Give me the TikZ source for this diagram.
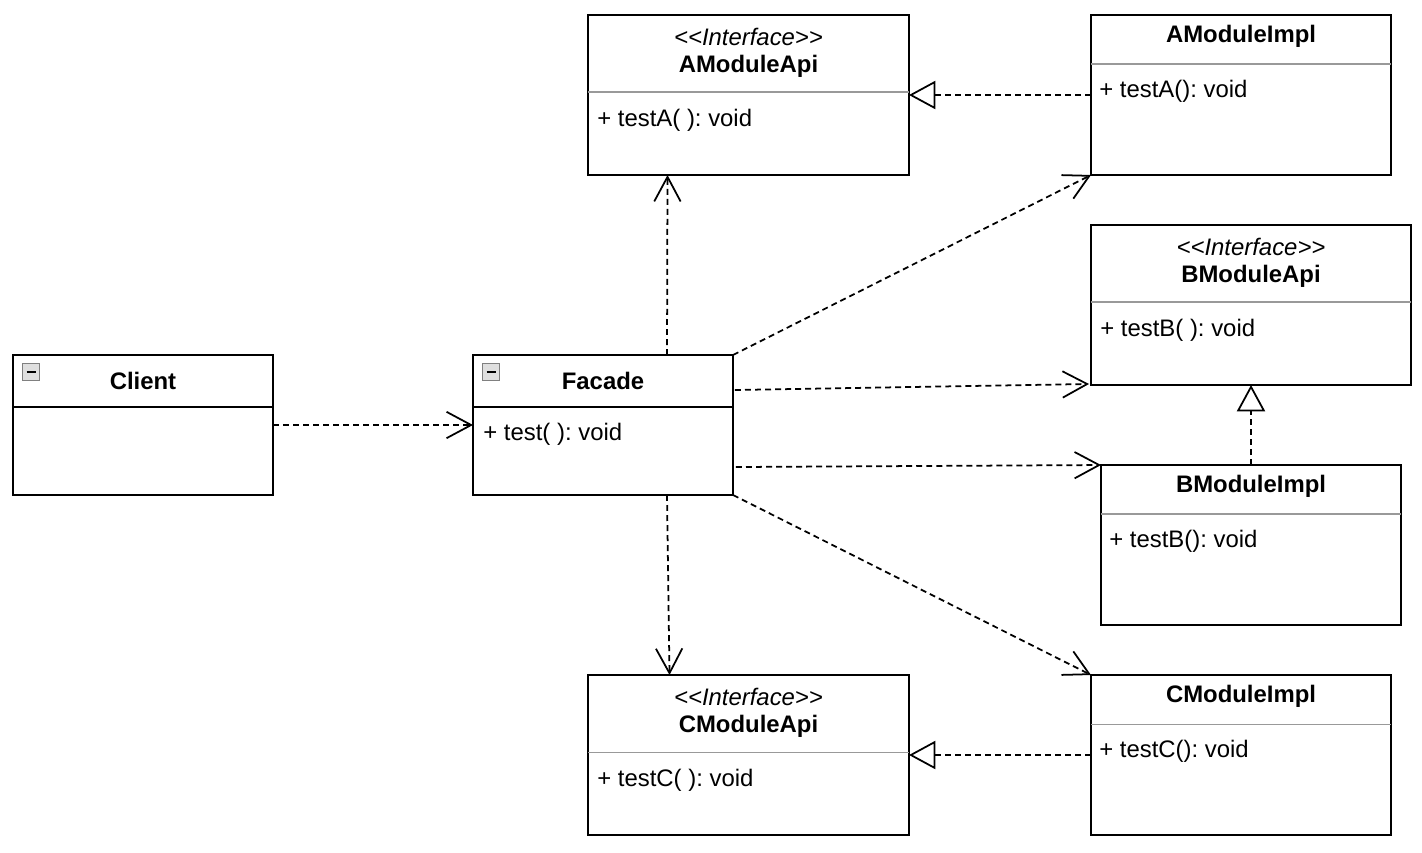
\documentclass[tikz,border=0pt]{standalone}
\usepackage{fontspec}
\setmainfont{Liberation Sans}
\usepackage{tikz}
\usetikzlibrary{arrows.meta,calc}
\frenchspacing

\tikzset{
	cls/.style={draw, line width=1.1pt, fill=white, inner sep=0pt, outer sep=0pt},
	txt/.style={inner sep=0pt, font=\fontsize{13.6}{16}\selectfont},
	ttl/.style={txt, font=\fontsize{13.6}{16}\selectfont\bfseries},
	stereo/.style={txt, font=\fontsize{13.6}{16}\selectfont\itshape},
	mem/.style={txt, anchor=west},
	sep/.style={gray!80, line width=0.6pt},
	dep/.style={dashed, line width=1pt, dash pattern=on 3.4pt off 2.3pt,
		-{Straight Barb[length=14pt, width=15pt, line width=1pt]}},
	real/.style={dashed, line width=1pt, dash pattern=on 3.4pt off 2.3pt,
		-{Triangle[open, length=15pt, width=16pt, line width=1pt, fill=white]}}
}

\begin{document}
\begin{tikzpicture}[x=0.02cm, y=-0.02cm]
		\useasboundingbox (0,0) rectangle (1422,852);
		
		% 1. 类框
		\node[cls, minimum width=5.2cm, minimum height=2.8cm] (client) at (143,425) {};
		\node[cls, minimum width=5.2cm, minimum height=2.8cm] (facade) at (603,425) {};
		\node[cls, minimum width=6.42cm, minimum height=3.2cm] (aapi) at (748.5,95) {};
		\node[cls, minimum width=6cm, minimum height=3.2cm] (aimpl) at (1241,95) {};
		\node[cls, minimum width=6.4cm, minimum height=3.2cm] (bapi) at (1251,305) {};
		\node[cls, minimum width=6cm, minimum height=3.2cm] (bimpl) at (1251,545) {};
		\node[cls, minimum width=6.42cm, minimum height=3.2cm] (capi) at (748.5,755) {};
		\node[cls, minimum width=6cm, minimum height=3.2cm] (cimpl) at (1241,755) {};
		
		% 2. Client 和 Facade (带折叠图标)
		\foreach \c/\t in {client/Client, facade/Facade} {
			\node[ttl] (\c T) at ($(\c.north)+(0,26)$) {\t};
			\draw[line width=1.1pt] ($(\c.north west)+(0,52)$) -- ($(\c.north east)+(0,52)$);
			\node[draw=gray, fill=gray!25, line width=0.7pt, minimum size=0.33cm, inner sep=0pt]
				(\c I) at ($(\c.north west)+(18,17)$) {};
			\draw[line width=1.3pt] ($(\c I)+(-4.5,0)$) -- ($(\c I)+(4.5,0)$);
		}
		\node[mem] (facadeM) at ($(facade.north west)+(10,79)$) {+ test( ): void};
		
		% 3. 接口
		\foreach \c/\t/\m in {aapi/AModuleApi/testA, bapi/BModuleApi/testB, capi/CModuleApi/testC} {
			\node[stereo] (\c S) at ($(\c.north)+(0,22)$) {<\kern0pt<Interface>\kern0pt>};
			\node[ttl] (\c T) at ($(\c.north)+(0,51)$) {\t};
			\draw[sep] ($(\c.north west)+(0,77)$) -- ($(\c.north east)+(0,77)$);
			\node[mem] (\c M) at ($(\c.north west)+(9,105)$) {+ \m( ): void};
		}
		
		% 4. 实现类
		\foreach \c/\t/\m in {aimpl/AModuleImpl/testA, bimpl/BModuleImpl/testB, cimpl/CModuleImpl/testC} {
			\node[ttl] (\c T) at ($(\c.north)+(0,21)$) {\t};
			\draw[sep] ($(\c.north west)+(0,49)$) -- ($(\c.north east)+(0,49)$);
			\node[mem] (\c M) at ($(\c.north west)+(8,76)$) {+ \m(): void};
		}
		
		% 5. 依赖
		\draw[dep] (client.east) -- (facade.west);
		\draw[dep] ($(facade.north)+(64,0)$) -- ($(aapi.south)+(-81,0)$);
		\draw[dep] (facade.north east) -- (aimpl.south west);
		\draw[dep] ($(facade.east)+(2,-35)$) -- ($(bapi.south west)+(-2,-1)$);
		\draw[dep] ($(facade.east)+(3,42)$) -- (bimpl.north west);
		\draw[dep] (facade.south east) -- (cimpl.north west);
		\draw[dep] ($(facade.south)+(64,0)$) -- ($(capi.north)+(-79,0)$);
		
		% 6. 实现
		\draw[real] (aimpl.west) -- (aapi.east);
		\draw[real] (bimpl.north) -- (bapi.south);
		\draw[real] (cimpl.west) -- (capi.east);
		
	\end{tikzpicture}
\end{document}
